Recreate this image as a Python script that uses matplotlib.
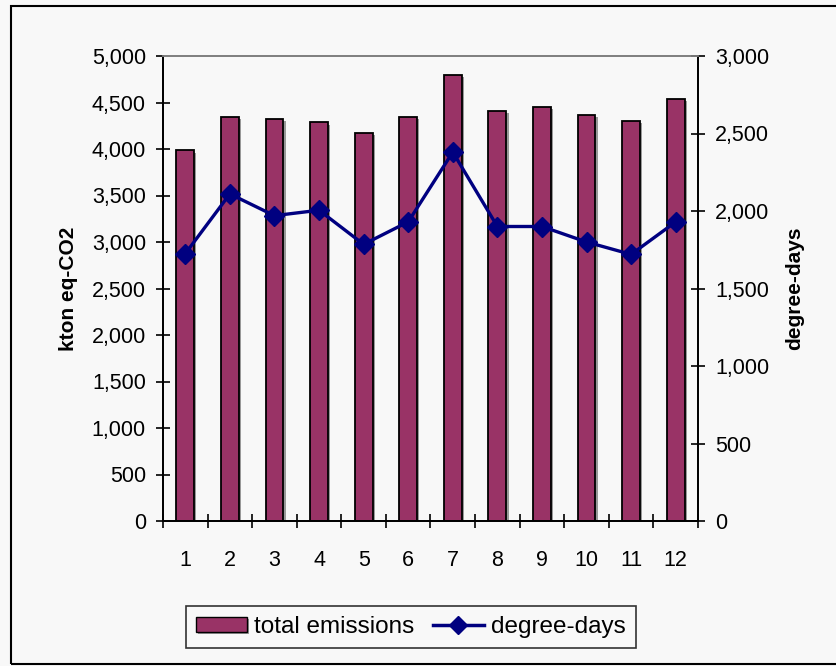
import matplotlib
matplotlib.use("Agg")
import matplotlib.pyplot as plt
import matplotlib.patheffects as pe
from matplotlib.patches import Rectangle
from matplotlib.ticker import FuncFormatter, FixedLocator
from matplotlib.lines import Line2D
import numpy as np

months = ["1", "2", "3", "4", "5", "6", "7", "8", "9", "10", "11", "12"]
total_emissions = [3985, 4345, 4325, 4285, 4175, 4345, 4800, 4410, 4455, 4370, 4305, 4540]
degree_days = [1725, 2110, 1970, 2005, 1785, 1930, 2380, 1900, 1900, 1800, 1720, 1930]

plt.rcParams['font.family'] = ['Liberation Sans', 'DejaVu Sans']
BG = '#f8f8f8'
BAR = '#993366'
LINE = '#000080'
TICK_FS = 15.5

W, H = 837, 666
fig = plt.figure(figsize=(W / 100, H / 100), dpi=100, facecolor=BG)
ax = fig.add_axes([163 / W, 1 - 521 / H, (698 - 163) / W, (521 - 56) / H])
ax.set_facecolor(BG)
ax2 = ax.twinx()

x = np.arange(len(months))
shadow = [pe.SimplePatchShadow(offset=(1.6, -1.6), shadow_rgbFace='#999999', alpha=1.0), pe.Normal()]
bars = ax.bar(x, total_emissions, width=0.4, color=BAR, edgecolor='black', linewidth=1.3, zorder=2)
for b in bars:
    b.set_path_effects(shadow)

ax2.plot(x, degree_days, color=LINE, linewidth=2.4, marker='D', markersize=10.5,
         markerfacecolor=LINE, markeredgecolor=LINE, zorder=3)

ax.set_xlim(-0.5, len(months) - 0.5)
ax.set_ylim(0, 5000)
ax2.set_ylim(0, 3000)
ax.set_yticks(np.arange(0, 5001, 500))
ax2.set_yticks(np.arange(0, 3001, 500))
fmt = FuncFormatter(lambda v, p: f"{int(v):,}")
ax.yaxis.set_major_formatter(fmt)
ax2.yaxis.set_major_formatter(fmt)

ax.set_xticks(x)
ax.set_xticklabels(months)
ax.xaxis.set_minor_locator(FixedLocator(np.arange(-0.5, len(months), 1.0)))
ax.tick_params(axis='x', which='major', length=0, pad=21, labelsize=TICK_FS)
ax.tick_params(axis='x', which='minor', length=9.5, direction='inout', width=1.2)
ax.tick_params(axis='y', length=9.5, direction='inout', width=1.2, pad=7.5, labelsize=TICK_FS)
ax2.tick_params(axis='y', length=9.5, direction='inout', width=1.2, pad=7.5, labelsize=TICK_FS)

for a in (ax, ax2):
    for s in ('left', 'right', 'bottom'):
        a.spines[s].set_color('black')
        a.spines[s].set_linewidth(1.3)
    a.spines['top'].set_color('#808080')
    a.spines['top'].set_linewidth(1.3)

ax.set_ylabel('kton eq-CO2', fontsize=15, fontweight='bold')
ax.yaxis.set_label_coords((78 - 163) / (698 - 163), 0.5)
ax2.set_ylabel('degree-days', fontsize=15, fontweight='bold', rotation=90)
ax2.yaxis.set_label_coords((785 - 163) / (698 - 163), 0.5)

# legend
h_bar = Rectangle((0, 0), 1, 1, facecolor=BAR, edgecolor='black', linewidth=1.0)
h_bar.set_path_effects(shadow)
h_line = Line2D([], [], color=LINE, linewidth=2.5, marker='D', markersize=9,
                markerfacecolor=LINE, markeredgecolor=LINE)
leg = fig.legend([h_bar, h_line], ['total emissions', 'degree-days'],
                 loc='center', bbox_to_anchor=(411 / W, 1 - 627 / H), ncol=2,
                 frameon=True, fancybox=False, edgecolor='black', facecolor=BG,
                 fontsize=17.5, handlelength=2.1, handleheight=0.6, handletextpad=0.3,
                 columnspacing=0.75, borderpad=0.4, borderaxespad=0)
leg.get_frame().set_linewidth(1.2)

# outer border
fig.patches.append(Rectangle((11 / W, 1 - 664 / H), 1.0, (664 - 6) / H, transform=fig.transFigure,
                             fill=False, edgecolor='black', linewidth=1.5))

fig.savefig('out.png', dpi=100, facecolor=BG)
